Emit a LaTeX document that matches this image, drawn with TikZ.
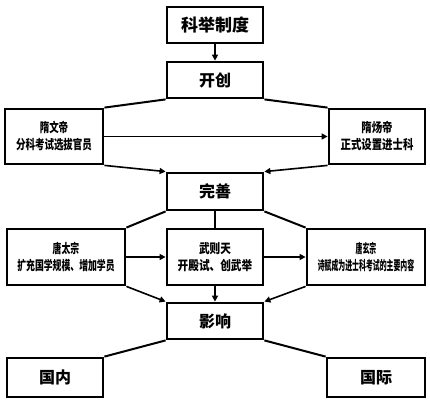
\documentclass[tikz,border=0pt]{standalone}
\usepackage{fontspec}
\usepackage{graphicx}
\newfontfamily\cjk{Noto Sans CJK SC}
\usetikzlibrary{arrows.meta}
\tikzset{
  box/.style={draw=black, line width=2.8pt, fill=white, inner sep=0pt, align=center, font=\cjk\bfseries},
  bigbox/.style={box, minimum width=96pt, minimum height=36pt, font=\cjk\bfseries\fontsize{16}{18}\selectfont},
  sidebox/.style={box, font=\cjk\bfseries\fontsize{13}{16}\selectfont},
  conn/.style={line width=2pt, black},
  arr/.style={line width=1.6pt, black, -{Triangle[length=6pt,width=6pt]}},
}
\newcommand{\sx}[2]{\scalebox{#1}[1]{#2}}
\begin{document}
\begin{tikzpicture}[x=1pt,y=-1pt]
\useasboundingbox[fill=white] (0,0) rectangle (430,401);
\node[bigbox] (title) at (215,25) {\fontsize{17}{19}\selectfont 科举制度};
\node[bigbox] (kc) at (215,80) {开创};
\node[sidebox, minimum width=98pt, minimum height=55pt] (L1) at (54,136.5) {\sx{0.73}{隋文帝}\\[1pt]\sx{0.73}{分科考试选拔官员}};
\node[sidebox, minimum width=96pt, minimum height=55pt] (R1) at (377,136.5) {\sx{0.8}{隋炀帝}\\[1pt]\sx{0.8}{正式设置进士科}};
\node[bigbox, minimum height=37pt] (ws) at (215,191.5) {完善};
\node[sidebox, minimum width=118pt, minimum height=56pt] (L2) at (66,257) {\sx{0.68}{唐太宗}\\[1pt]\sx{0.68}{扩充国学规模、增加学员}};
\node[sidebox, minimum width=96pt, minimum height=56pt] (M2) at (215,257) {\sx{0.82}{武则天}\\[1pt]\sx{0.82}{开殿试、创武举}};
\node[sidebox, minimum width=118pt, minimum height=56pt] (R2) at (366,257) {\sx{0.53}{唐玄宗}\\[1pt]\sx{0.53}{诗赋成为进士科考试的主要内容}};
\node[bigbox] (yx) at (215,321) {影响};
\node[bigbox, minimum height=39pt] (gn) at (55,377.5) {国内};
\node[bigbox, minimum width=98pt, minimum height=39pt] (gj) at (376,377.5) {国际};
% connectors
\draw[arr] (title) -- (kc);
\draw[conn] (kc.south west) -- (L1.north east);
\draw[conn] (kc.south east) -- (R1.north west);
\draw[arr] (L1) -- (R1);
\draw[arr] (L1.south east) -- (ws.north west);
\draw[arr] (R1.south west) -- (ws.north east);
\draw[conn] (ws.south west) -- (L2.north east);
\draw[conn] (ws.south east) -- (R2.north west);
\draw[conn] (ws.south) -- (M2.north);
\draw[arr] (L2) -- (M2);
\draw[arr] (M2) -- (R2);
\draw[arr] (L2.south east) -- (yx.north west);
\draw[arr] (M2) -- (yx);
\draw[arr] (R2.south west) -- (yx.north east);
\draw[conn] (yx.south west) -- (gn.north east);
\draw[conn] (yx.south east) -- (gj.north west);
\end{tikzpicture}
\end{document}
